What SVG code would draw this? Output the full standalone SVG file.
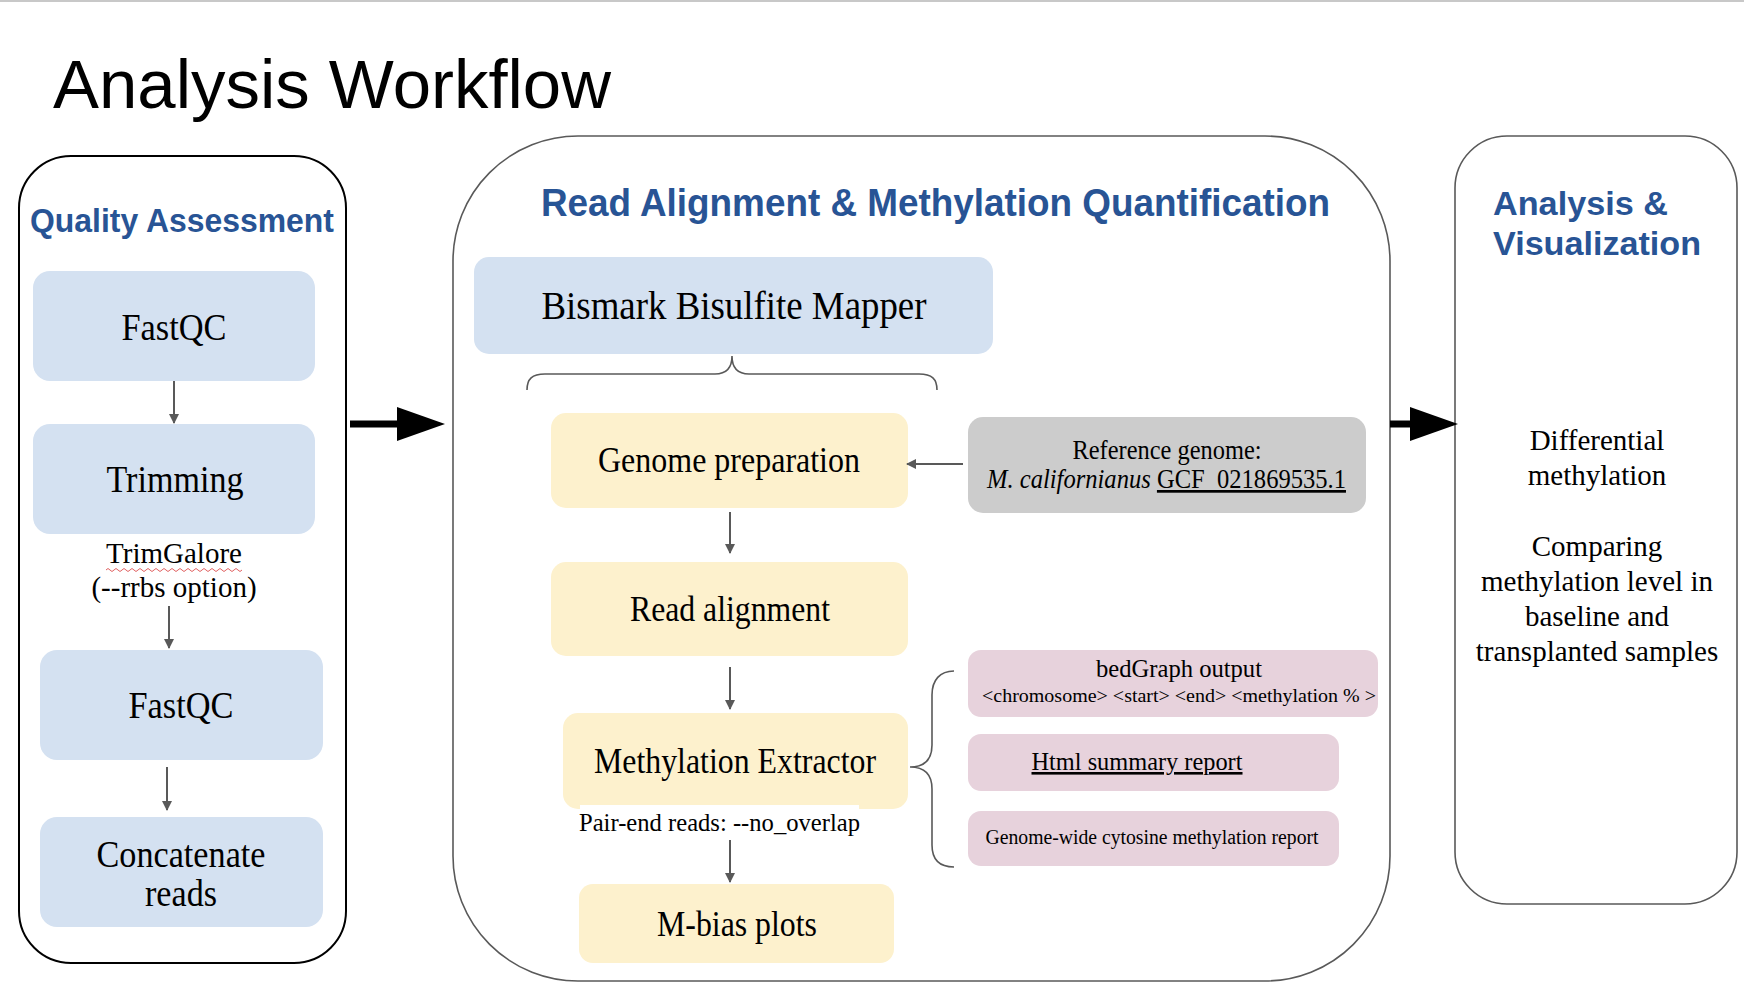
<svg xmlns="http://www.w3.org/2000/svg" width="1744" height="990" viewBox="0 0 1744 990">
<style>
.serif{font-family:"Liberation Serif","Times New Roman",serif;fill:#000;}
.box{font-size:37px;}
.mid{font-size:26px;}
.ttl{font-family:"Liberation Sans",Arial,sans-serif;font-weight:bold;fill:#285495;}
.blue{fill:#d4e1f1;}
.yel{fill:#fdf1cd;}
.gry{fill:#cccccc;}
.pnk{fill:#e7d2dc;}
.con{stroke:#595959;stroke-width:2;fill:none;}
.brace{stroke:#595959;stroke-width:1.6;fill:none;}
</style>
<defs>
<marker id="ah" markerWidth="10" markerHeight="10" refX="9" refY="5" orient="auto" markerUnits="userSpaceOnUse" viewBox="0 0 10 10">
<path d="M0,0 L10,5 L0,10 z" fill="#595959"/>
</marker>
</defs>
<rect width="1744" height="990" fill="#fff"/>
<rect x="0" y="0" width="1744" height="2" fill="#c8c8c8"/>
<text id="title" x="53" y="108" font-family="Liberation Sans, Arial, sans-serif" font-size="69" textLength="558" lengthAdjust="spacingAndGlyphs">Analysis Workflow</text>

<g id="qa-panel">
<rect x="19" y="156" width="327" height="807" rx="52" ry="52" fill="none" stroke="#000" stroke-width="2"/>
<text class="ttl" x="30" y="232" font-size="34" textLength="304" lengthAdjust="spacingAndGlyphs">Quality Assessment</text>
</g>
<g id="fastqc1">
<rect class="blue" x="33" y="271" width="282" height="110" rx="17"/>
<text class="serif box" x="174" y="340" text-anchor="middle" textLength="105" lengthAdjust="spacingAndGlyphs">FastQC</text>
</g>
<g id="trimming">
<rect class="blue" x="33" y="424" width="282" height="110" rx="17"/>
<text class="serif box" x="175" y="492" text-anchor="middle" textLength="137" lengthAdjust="spacingAndGlyphs">Trimming</text>
</g>
<g id="trimgalore-label">
<text class="serif" x="174" y="563" font-size="29" text-anchor="middle">TrimGalore</text>
<path d="M106,570 q2,-3 4,0 t4,0 t4,0 t4,0 t4,0 t4,0 t4,0 t4,0 t4,0 t4,0 t4,0 t4,0 t4,0 t4,0 t4,0 t4,0 t4,0 t4,0 t4,0 t4,0 t4,0 t4,0 t4,0 t4,0 t4,0 t4,0 t4,0 t4,0 t4,0 t4,0 t4,0 t4,0 t4,0 t4,0" fill="none" stroke="#e06060" stroke-width="1"/>
<text class="serif" x="174" y="597" font-size="29" text-anchor="middle">(--rrbs option)</text>
</g>
<g id="fastqc2">
<rect class="blue" x="40" y="650" width="283" height="110" rx="17"/>
<text class="serif box" x="181" y="718" text-anchor="middle" textLength="105" lengthAdjust="spacingAndGlyphs">FastQC</text>
</g>
<g id="concat">
<rect class="blue" x="40" y="817" width="283" height="110" rx="17"/>
<text class="serif box" x="181" y="867" text-anchor="middle" textLength="169" lengthAdjust="spacingAndGlyphs">Concatenate</text>
<text class="serif box" x="181" y="906" text-anchor="middle" textLength="72" lengthAdjust="spacingAndGlyphs">reads</text>
</g>

<g id="ram-panel">
<rect x="453" y="136" width="937" height="845" rx="125" ry="125" fill="none" stroke="#595959" stroke-width="1.6"/>
<text class="ttl" x="541" y="216" font-size="39" textLength="789" lengthAdjust="spacingAndGlyphs">Read Alignment &amp; Methylation Quantification</text>
</g>
<g id="bismark">
<rect class="blue" x="474" y="257" width="519" height="97" rx="15"/>
<text class="serif" x="734" y="319" font-size="40" text-anchor="middle" textLength="385" lengthAdjust="spacingAndGlyphs">Bismark Bisulfite Mapper</text>
</g>
<g id="genome-prep">
<rect class="yel" x="551" y="413" width="357" height="95" rx="15"/>
<text class="serif" x="729" y="472" font-size="36" text-anchor="middle" textLength="262" lengthAdjust="spacingAndGlyphs">Genome preparation</text>
</g>
<g id="ref-genome">
<rect class="gry" x="968" y="417" width="398" height="96" rx="15"/>
<text class="serif" x="1167" y="459" font-size="27" text-anchor="middle" textLength="189" lengthAdjust="spacingAndGlyphs">Reference genome:</text>
<text class="serif" x="987" y="488" font-size="27" textLength="359" lengthAdjust="spacingAndGlyphs"><tspan font-style="italic">M. californianus</tspan> <tspan text-decoration="underline">GCF_021869535.1</tspan></text>
</g>
<g id="read-align">
<rect class="yel" x="551" y="562" width="357" height="94" rx="15"/>
<text class="serif" x="730" y="621" font-size="36" text-anchor="middle" textLength="200" lengthAdjust="spacingAndGlyphs">Read alignment</text>
</g>
<g id="meth-extractor">
<rect class="yel" x="563" y="713" width="345" height="96" rx="15"/>
<text class="serif" x="735" y="773" font-size="36" text-anchor="middle" textLength="282" lengthAdjust="spacingAndGlyphs">Methylation Extractor</text>
</g>
<g id="pair-end-label">
<rect x="580" y="805" width="279" height="36" fill="#fff"/>
<text class="serif mid" x="579" y="831" textLength="281" lengthAdjust="spacingAndGlyphs">Pair-end reads: --no_overlap</text>
</g>
<g id="mbias">
<rect class="yel" x="579" y="884" width="315" height="79" rx="14"/>
<text class="serif" x="737" y="936" font-size="36" text-anchor="middle" textLength="160" lengthAdjust="spacingAndGlyphs">M-bias plots</text>
</g>
<g id="bedgraph">
<rect class="pnk" x="968" y="650" width="410" height="67" rx="13"/>
<text class="serif mid" x="1179" y="677" text-anchor="middle" textLength="166" lengthAdjust="spacingAndGlyphs">bedGraph output</text>
<text class="serif" x="1179" y="702" font-size="19" text-anchor="middle" textLength="394" lengthAdjust="spacingAndGlyphs">&lt;chromosome&gt; &lt;start&gt;  &lt;end&gt; &lt;methylation % &gt;</text>
</g>
<g id="html-report">
<rect class="pnk" x="968" y="734" width="371" height="57" rx="13"/>
<text class="serif mid" x="1137" y="770" text-anchor="middle" text-decoration="underline" textLength="211" lengthAdjust="spacingAndGlyphs">Html summary report</text>
</g>
<g id="cytosine-report">
<rect class="pnk" x="968" y="811" width="371" height="55" rx="13"/>
<text class="serif" x="1152" y="844" font-size="20" text-anchor="middle" textLength="333" lengthAdjust="spacingAndGlyphs">Genome-wide cytosine methylation report</text>
</g>

<g id="av-panel">
<rect x="1455" y="136" width="282" height="768" rx="52" ry="52" fill="none" stroke="#595959" stroke-width="1.6"/>
<text class="ttl" x="1493" y="215" font-size="33" textLength="175" lengthAdjust="spacingAndGlyphs">Analysis &amp;</text>
<text class="ttl" x="1493" y="255" font-size="33" textLength="208" lengthAdjust="spacingAndGlyphs">Visualization</text>
<g class="serif" font-size="29" text-anchor="middle">
<text x="1597" y="450">Differential</text>
<text x="1597" y="485">methylation</text>
<text x="1597" y="556">Comparing</text>
<text x="1597" y="591">methylation level in</text>
<text x="1597" y="626">baseline and</text>
<text x="1597" y="661">transplanted samples</text>
</g>
</g>

<g id="connectors">
<line class="con" x1="174" y1="381" x2="174" y2="423" marker-end="url(#ah)"/>
<line class="con" x1="169" y1="606" x2="169" y2="648" marker-end="url(#ah)"/>
<line class="con" x1="167" y1="767" x2="167" y2="810" marker-end="url(#ah)"/>
<line class="con" x1="963" y1="464" x2="907" y2="464" marker-end="url(#ah)"/>
<line class="con" x1="730" y1="512" x2="730" y2="553" marker-end="url(#ah)"/>
<line class="con" x1="730" y1="667" x2="730" y2="709" marker-end="url(#ah)"/>
<line class="con" x1="730" y1="840" x2="730" y2="882" marker-end="url(#ah)"/>
<path class="brace" d="M527,390 C527,379 532,374 545,374 L715,374 C727,374 732,368 732,356 C732,368 737,374 749,374 L919,374 C932,374 937,379 937,390"/>
<path class="brace" d="M954,671 C940,671 932,680 932,695 L932,745 C932,760 925,767 910,767 C925,767 932,774 932,789 L932,845 C932,860 940,867 954,867"/>
<g fill="#000">
<rect x="350" y="420.5" width="50" height="7"/>
<path d="M397,407 L445,424 L397,441 z"/>
<rect x="1390" y="420.5" width="22" height="7"/>
<path d="M1410,407 L1458,424 L1410,441 z"/>
</g>
</g>
</svg>
